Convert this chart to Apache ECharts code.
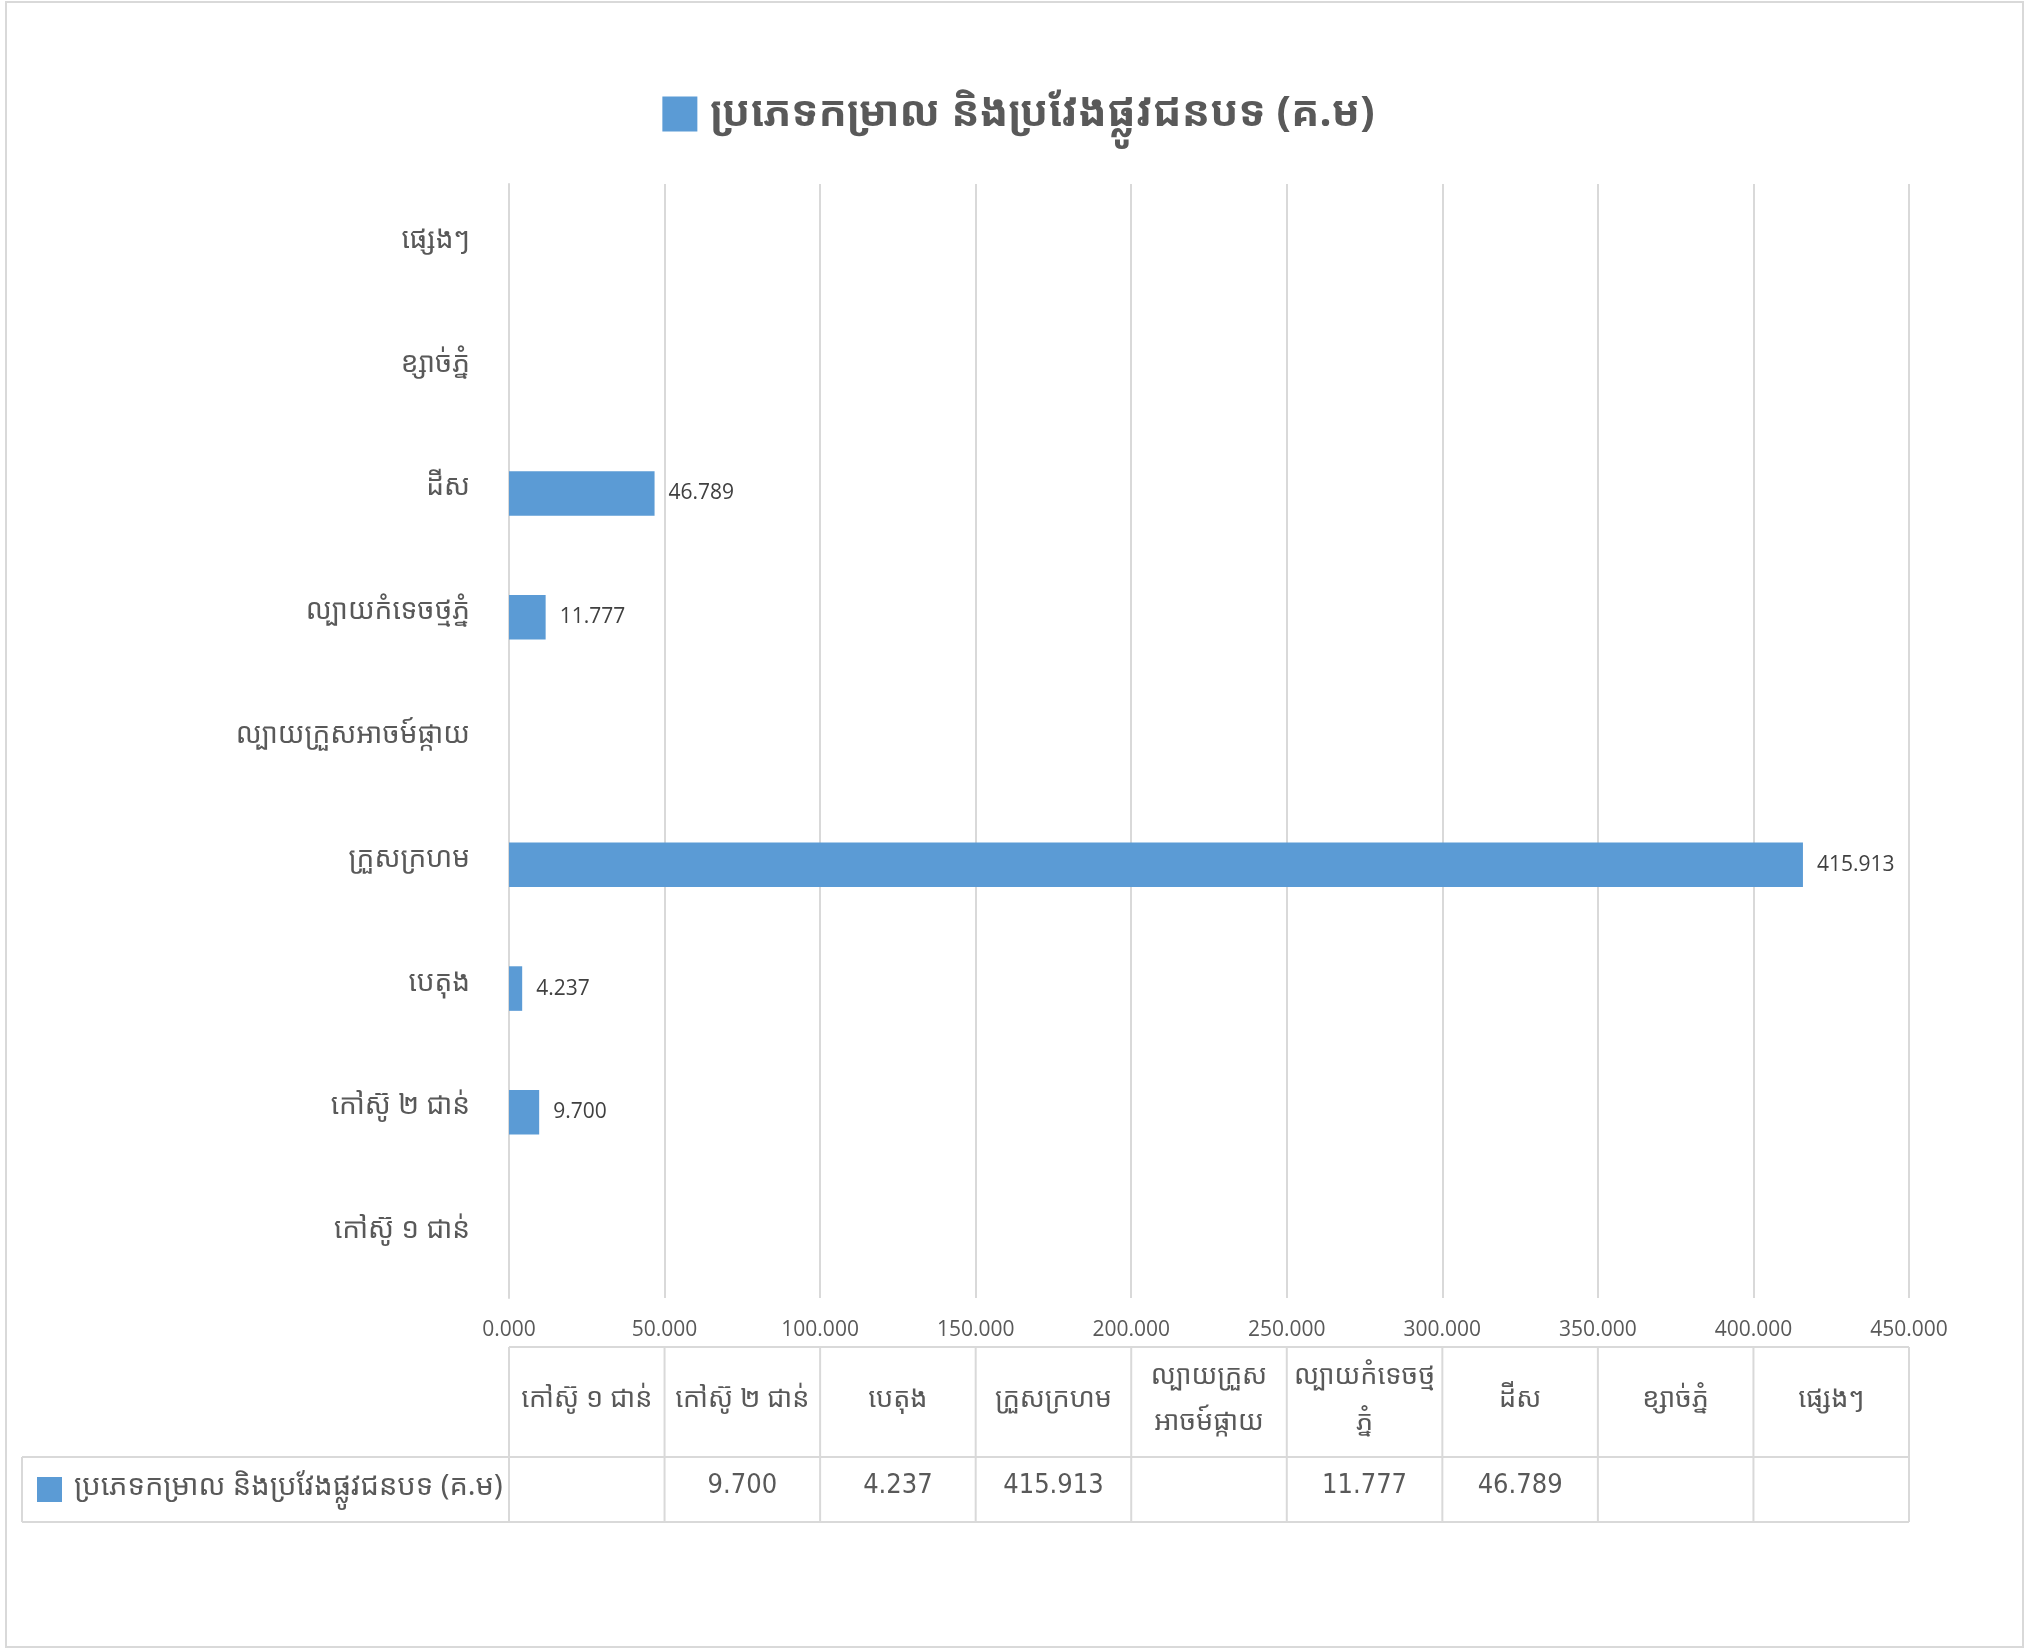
<!DOCTYPE html>
<html>
<head>
<meta charset="utf-8">
<script src="https://cdn.jsdelivr.net/npm/echarts@6/dist/echarts.min.js"></script>
<style>
html,body{margin:0;padding:0;background:#fff;}
#chart{width:2037px;height:1649px;}
</style>
</head>
<body>
<div id="chart"></div>
<script>
// ---- data ----
var seriesName = 'ប្រភេទកម្រាល និងប្រវែងផ្លូវជនបទ (គ.ម)';
var categories = ['កៅស៊ូ ១ ជាន់', 'កៅស៊ូ ២ ជាន់', 'បេតុង', 'ក្រួសក្រហម', 'ល្បាយក្រួសអាចម៍ផ្កាយ', 'ល្បាយកំទេចថ្មភ្នំ', 'ដីស', 'ខ្សាច់ភ្នំ', 'ផ្សេងៗ'];
var tableHeaders = ['កៅស៊ូ ១ ជាន់', 'កៅស៊ូ ២ ជាន់', 'បេតុង', 'ក្រួសក្រហម', 'ល្បាយក្រួស\nអាចម៍ផ្កាយ', 'ល្បាយកំទេចថ្ម\nភ្នំ', 'ដីស', 'ខ្សាច់ភ្នំ', 'ផ្សេងៗ'];
var values = [null, 9.700, 4.237, 415.913, null, 11.777, 46.789, null, null];
var xMin = 0, xMax = 450, xStep = 50;

var KH = '"Noto Sans Khmer","Khmer OS","Khmer OS System","Noto Sans",sans-serif';
var NUM = '"Open Sans","Noto Sans",sans-serif';
var TXT = '#595959';
var LINE = '#d9d9d9';
var BAR = '#5b9bd5';

var chart = echarts.init(document.getElementById('chart'));
var option = {
  backgroundColor: '#fff',
  animation: false,
  legend: {
    top: 88,
    left: 'center',
    icon: 'rect',
    itemWidth: 35,
    itemHeight: 35,
    textStyle: {fontSize: 42, fontWeight: 'bold', color: TXT, fontFamily: KH, padding: [0, 0, 0, 8]},
    data: [seriesName]
  },
  grid: {left: 509, right: 128, top: 184, bottom: 351, containLabel: false},
  xAxis: {
    type: 'value', min: xMin, max: xMax, interval: xStep,
    axisLine: {show: false}, axisTick: {show: false},
    splitLine: {lineStyle: {color: LINE, width: 2}},
    axisLabel: {margin: 22, fontSize: 21, color: TXT, fontFamily: NUM,
      formatter: function (v) { return v.toFixed(3); }}
  },
  yAxis: {
    type: 'category', data: categories,
    axisLine: {lineStyle: {color: LINE, width: 2}},
    axisTick: {show: false},
    axisLabel: {margin: 39, fontSize: 28, color: TXT, fontFamily: KH,
      verticalAlign: 'bottom', lineHeight: 12}
  },
  series: [{
    name: seriesName, type: 'bar', data: values, barWidth: '36%',
    itemStyle: {color: BAR},
    label: {show: true, position: 'right', distance: 14, fontSize: 21, color: '#404040', fontFamily: NUM,
      formatter: function (p) { return p.value == null ? '' : Number(p.value).toFixed(3); }}
  }]
};
chart.setOption(option);

// ---- data table under the plot ----
function px(v) { return chart.convertToPixel({xAxisIndex: 0}, v); }
var tTop = 1347, tMid = 1457, tBot = 1522, legLeft = 22;
var x0 = px(xMin), xN = px(xMax);
var g = [];
function line(x1, y1, x2, y2) {
  g.push({type: 'line', silent: true, shape: {x1: x1, y1: y1, x2: x2, y2: y2},
    style: {stroke: LINE, lineWidth: 2}});
}
// outer chart border
g.push({type: 'rect', silent: true, shape: {x: 6, y: 2, width: 2017, height: 1645},
  style: {fill: null, stroke: LINE, lineWidth: 2}});
line(x0, tTop, xN, tTop);
line(legLeft, tMid, xN, tMid);
line(legLeft, tBot, xN, tBot);
line(legLeft, tMid, legLeft, tBot);
for (var i = 0; i < categories.length; i++) {
  var a = px(xMin + i * xStep), b = px(xMin + (i + 1) * xStep);
  line(a, tTop, a, tBot);
  if (i === categories.length - 1) line(b, tTop, b, tBot);
  var cx = (a + b) / 2;
  g.push({type: 'text', silent: true, x: cx, y: (tTop + tMid) / 2 - 3,
    style: {text: tableHeaders[i], fill: TXT, font: '27px ' + KH, align: 'center', verticalAlign: 'middle', lineHeight: 46}});
  if (values[i] != null) {
    g.push({type: 'text', silent: true, x: cx, y: (tMid + tBot) / 2 - 4,
      style: {text: values[i].toFixed(3), fill: TXT, font: '27px "Liberation Sans Narrow","DejaVu Sans Condensed",sans-serif', align: 'center', verticalAlign: 'middle'}});
  }
}
// legend key in table
g.push({type: 'rect', silent: true, shape: {x: 37, y: 1477, width: 25, height: 25}, style: {fill: BAR}});
g.push({type: 'text', silent: true, x: 74, y: (tMid + tBot) / 2 - 3,
  style: {text: seriesName, fill: TXT, font: '29px ' + KH, align: 'left', verticalAlign: 'middle'}});
chart.setOption({graphic: g});
</script>
</body>
</html>
